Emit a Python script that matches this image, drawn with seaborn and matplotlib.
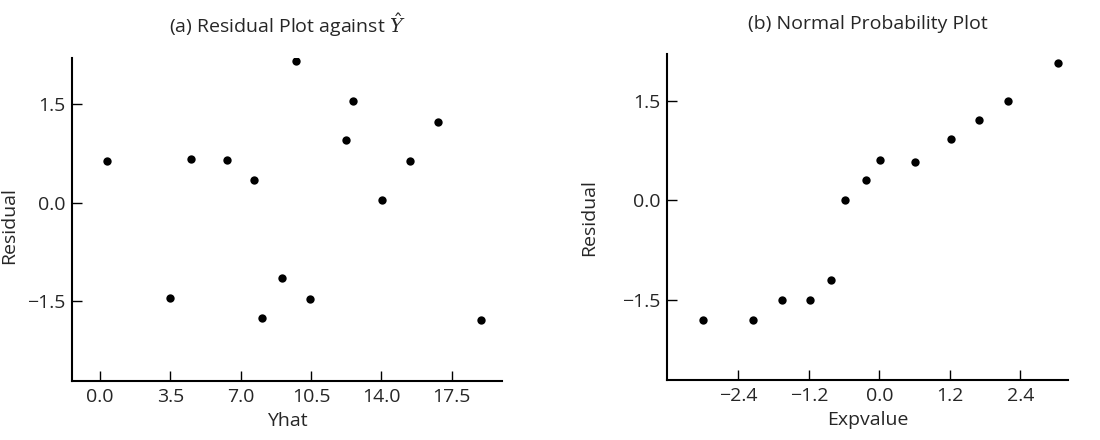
import matplotlib
matplotlib.use("Agg")
import matplotlib.pyplot as plt
import seaborn as sns
import pandas as pd

# panel (a): residuals against fitted values
yhat = [0.36, 3.48, 4.54, 6.30, 7.66, 8.04, 9.05, 9.75, 10.45, 12.24, 12.60, 14.01, 15.42, 16.83, 18.96]
resid_a = [0.63, -1.44, 0.66, 0.65, 0.35, -1.75, -1.15, 2.16, -1.46, 0.96, 1.55, 0.04, 0.63, 1.23, -1.78]

# panel (b): normal probability plot
expvalue = [-3.00, -2.15, -1.66, -1.18, -0.82, -0.59, -0.22, 0.01, 0.61, 1.22, 1.70, 2.19, 3.04]
resid_b = [-1.80, -1.81, -1.50, -1.51, -1.20, 0.01, 0.31, 0.61, 0.58, 0.92, 1.21, 1.50, 2.07]

xticks_a = [0.0, 3.5, 7.0, 10.5, 14.0, 17.5]
xticks_b = [-2.4, -1.2, 0.0, 1.2, 2.4]
yticks = [-1.5, 0.0, 1.5]

df_a = pd.DataFrame({'Yhat': yhat, 'Residual': resid_a})
df_b = pd.DataFrame({'Expvalue': expvalue, 'Residual': resid_b})

sns.set_style("ticks")
plt.rcParams['font.family'] = ['Open Sans', 'DejaVu Sans']
plt.rcParams['mathtext.fontset'] = 'dejavuserif'

fig = plt.figure(figsize=(11, 4.4), dpi=100)
ax1 = fig.add_axes([0.0659, 0.134, 0.3905, 0.734])
ax2 = fig.add_axes([0.6066, 0.136, 0.3643, 0.741])

FS = 14


def style_axis(ax, xticks, xlim):
    ax.set_xticks(xticks)
    ax.set_xticklabels([f'{t:.1f}'.replace('-', '\u2212') for t in xticks])
    ax.set_yticks(yticks)
    ax.set_yticklabels([f'{t:.1f}'.replace('-', '\u2212') for t in yticks])
    ax.set_xlim(*xlim)
    ax.set_ylim(-2.71, 2.2)
    ax.tick_params(direction='in', length=7, width=1.0, labelsize=FS, pad=5, color='black')
    for side in ['top', 'right']:
        ax.spines[side].set_visible(False)
    for side in ['left', 'bottom']:
        ax.spines[side].set_linewidth(1.5)
        ax.spines[side].set_color('black')


sns.scatterplot(data=df_a, x='Yhat', y='Residual', ax=ax1, s=36, color='black', edgecolor='black', linewidth=0)
style_axis(ax1, xticks_a, (-1.37, 20.0))
ax1.set_xlabel('Yhat', fontsize=FS, labelpad=4)
ax1.set_ylabel('Residual', fontsize=FS)
ax1.yaxis.set_label_coords(-0.127, 0.48)
ax1.set_title(r'(a) Residual Plot against $\hat{Y}$', fontsize=FS, pad=18)

sns.scatterplot(data=df_b, x='Expvalue', y='Residual', ax=ax2, s=36, color='black', edgecolor='black', linewidth=0)
style_axis(ax2, xticks_b, (-3.61, 3.21))
ax2.set_xlabel('Expvalue', fontsize=FS, labelpad=4)
ax2.set_ylabel('Residual', fontsize=FS)
ax2.yaxis.set_label_coords(-0.173, 0.5)
ax2.set_title('(b) Normal Probability Plot', fontsize=FS, pad=18)

plt.savefig('out.png', dpi=100)
